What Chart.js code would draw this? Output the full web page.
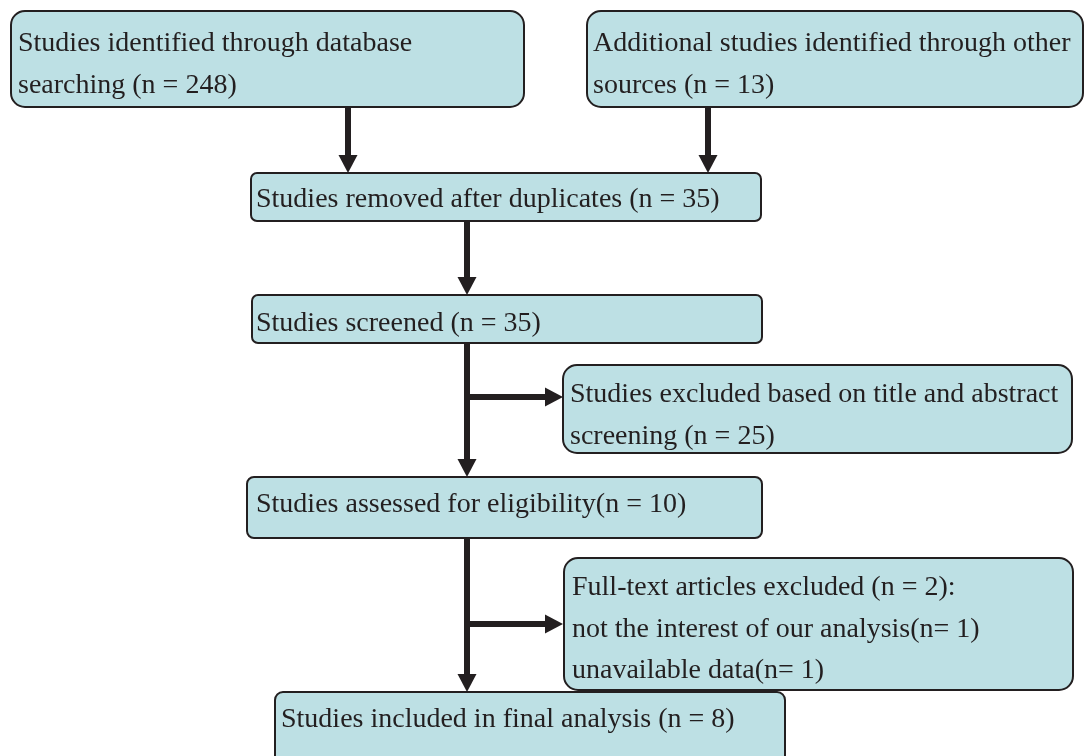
<!DOCTYPE html>
<html>
<head>
<meta charset="utf-8">
<script src="https://cdn.jsdelivr.net/npm/chart.js@4.4.1/dist/chart.umd.min.js"></script>
<style>
  html, body { margin: 0; padding: 0; background: #fff; }
  #wrap { width: 1084px; height: 756px; position: relative; }
</style>
</head>
<body>
<div id="wrap"><canvas id="flow"></canvas></div>
<script>
// study counts at each stage
const counts = [248, 13, 35, 35, 25, 10, 2, 1, 1, 8];

const boxLines = [
  ['Studies identified through database', 'searching (n = ' + counts[0] + ')'],
  ['Additional studies identified through other', 'sources (n = ' + counts[1] + ')'],
  ['Studies removed after duplicates (n = ' + counts[2] + ')'],
  ['Studies screened (n = ' + counts[3] + ')'],
  ['Studies excluded based on title and abstract', 'screening (n = ' + counts[4] + ')'],
  ['Studies assessed for eligibility(n = ' + counts[5] + ')'],
  ['Full-text articles excluded (n = ' + counts[6] + '):', 'not the interest of our analysis(n= ' + counts[7] + ')', 'unavailable data(n= ' + counts[8] + ')'],
  ['Studies included in final analysis (n = ' + counts[9] + ')']
];

// layout, in axis units (1 unit = 1px)
const boxLeft   = [11, 587, 251, 252, 563, 247, 564, 275];
const boxTop    = [11, 11, 173, 295, 365, 477, 558, 692];
const boxRight  = [524, 1083, 761, 762, 1072, 762, 1073, 785];
const boxBottom = [107, 107, 221, 343, 453, 538, 690, 800];
const boxRadius = [14, 14, 6, 6, 14, 7, 14, 8];
const textX     = [18, 593, 256, 256, 570, 256, 572, 281];
const baseline  = [51, 51, 207, 331, 402, 512, 595, 727];
const lineGap = 41.5;

// connectors: [x1, y1, x2, y2], arrowhead at the second point
const arrows = [
  [348, 107, 348, 173],
  [708, 107, 708, 173],
  [467, 221, 467, 295],
  [467, 343, 467, 477],
  [467, 397, 563, 397],
  [467, 538, 467, 692],
  [467, 624, 563, 624]
];

const fill = '#bde0e4';
const ink = '#231f20';

const boxPlugin = {
  id: 'boxes',
  beforeDatasetsDraw(chart) {
    const {ctx, scales: {x, y}} = chart;
    ctx.save();
    ctx.fillStyle = fill;
    ctx.strokeStyle = ink;
    ctx.lineWidth = 2;
    boxLeft.forEach((l, i) => {
      const x0 = x.getPixelForValue(l), x1 = x.getPixelForValue(boxRight[i]);
      const y0 = y.getPixelForValue(boxTop[i]), y1 = y.getPixelForValue(boxBottom[i]);
      ctx.beginPath();
      ctx.roundRect(x0, y0, x1 - x0, y1 - y0, boxRadius[i]);
      ctx.fill();
      ctx.stroke();
    });
    ctx.restore();
  },
  afterDatasetsDraw(chart) {
    const {ctx, scales: {x, y}} = chart;
    ctx.save();
    // arrowheads
    ctx.fillStyle = ink;
    arrows.forEach(a => {
      const px = x.getPixelForValue(a[2]), py = y.getPixelForValue(a[3]);
      const ang = Math.atan2(y.getPixelForValue(a[3]) - y.getPixelForValue(a[1]), x.getPixelForValue(a[2]) - x.getPixelForValue(a[0]));
      const len = 18, half = 9.5;
      ctx.beginPath();
      ctx.moveTo(px, py);
      ctx.lineTo(px - len * Math.cos(ang) + half * Math.sin(ang), py - len * Math.sin(ang) - half * Math.cos(ang));
      ctx.lineTo(px - len * Math.cos(ang) - half * Math.sin(ang), py - len * Math.sin(ang) + half * Math.cos(ang));
      ctx.closePath();
      ctx.fill();
    });
    // box texts
    ctx.font = '28px "Liberation Serif", "Times New Roman", serif';
    ctx.textBaseline = 'alphabetic';
    ctx.textAlign = 'left';
    boxLines.forEach((lines, i) => {
      lines.forEach((t, j) => {
        ctx.fillText(t, x.getPixelForValue(textX[i]), y.getPixelForValue(baseline[i] + j * lineGap));
      });
    });
    ctx.restore();
  }
};

new Chart(document.getElementById('flow'), {
  type: 'scatter',
  data: {
    datasets: arrows.map(a => ({
      data: [{x: a[0], y: a[1]}, {x: a[2] - (a[2] !== a[0] ? 10 : 0), y: a[3] - (a[3] !== a[1] ? 10 : 0)}],
      showLine: true,
      borderColor: ink,
      borderWidth: 6,
      pointRadius: 0,
      fill: false
    }))
  },
  options: {
    responsive: true,
    maintainAspectRatio: false,
    animation: false,
    layout: { padding: 0 },
    plugins: { legend: { display: false }, tooltip: { enabled: false } },
    scales: {
      x: { type: 'linear', min: 0, max: 1084, display: false },
      y: { type: 'linear', min: 0, max: 756, reverse: true, display: false }
    }
  },
  plugins: [boxPlugin]
});
</script>
</body>
</html>
